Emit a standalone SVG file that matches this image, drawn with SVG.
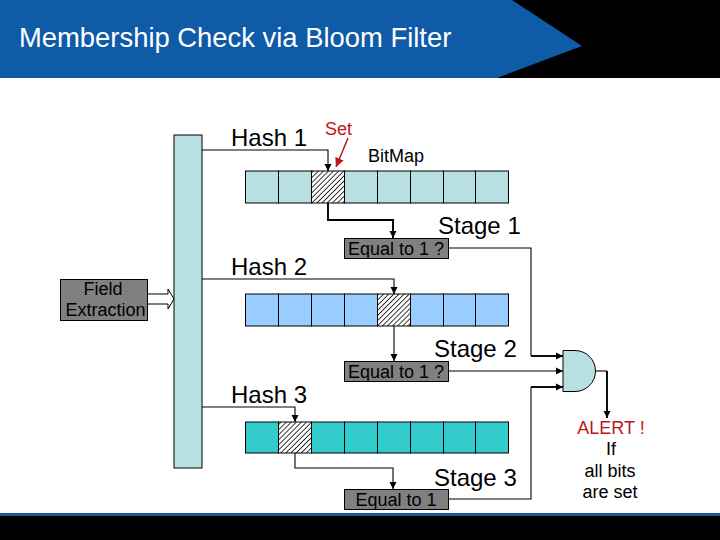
<svg xmlns="http://www.w3.org/2000/svg" width="720" height="540" viewBox="0 0 720 540">
<style>
.s{font-family:"Liberation Sans",Arial,sans-serif;fill:#000}
.h{font-size:24px}
.b{font-size:18px}
.w{stroke:#000;stroke-width:1.1;fill:none}
.t{stroke:#000;stroke-width:1.9;fill:none}
.cell{stroke:#000;stroke-width:1}
.gbox{fill:#808080;stroke:#000;stroke-width:1}
.red{fill:#c0141e}
</style>
<defs>
<pattern id="hatch" width="3.6" height="3.6" patternUnits="userSpaceOnUse" patternTransform="rotate(45)"><rect width="3.6" height="3.6" fill="#fff"/><rect width="0.9" height="3.6" fill="#222"/></pattern>
<marker id="a" markerUnits="userSpaceOnUse" markerWidth="8" markerHeight="8" refX="7" refY="4" orient="auto"><path d="M0 0.5L7 4L0 7.500Z" fill="#000"/></marker>
<marker id="r" markerUnits="userSpaceOnUse" markerWidth="11" markerHeight="10" refX="9" refY="5" orient="auto"><path d="M0 0.5L9 5L0 9.500Z" fill="#c0141e"/></marker>
</defs>
<rect width="720" height="540" fill="#fff"/>
<g id="banner"><rect width="720" height="78" fill="#000"/><path d="M0 0H512L582 46L497 78H0Z" fill="#0f5ba7"/><text x="19" y="47" font-family="Liberation Sans,Arial,sans-serif" font-size="27.400" fill="#fff">Membership Check via Bloom Filter</text></g>
<g id="footer"><rect y="513" width="720" height="27" fill="#000"/><rect y="513" width="720" height="3" fill="#1a5a96"/></g>
<g id="connectors">
<path class="w" d="M202 150H328V171" marker-end="url(#a)"/>
<path class="w" d="M202 279H394V294" marker-end="url(#a)"/>
<path class="w" d="M202 407H295V422" marker-end="url(#a)"/>
<path class="t" d="M328 203V220H393V238" marker-end="url(#a)"/>
<path class="w" d="M394 326V361" marker-end="url(#a)"/>
<path class="w" d="M295 453V468H393V489" marker-end="url(#a)"/>
<path class="w" d="M449 248H531V356"/>
<path class="t" d="M531 356H563" marker-end="url(#a)"/>
<path class="w" d="M449 371H563" marker-end="url(#a)"/>
<path class="w" d="M449 499H531V387"/>
<path class="t" d="M531 387H563" marker-end="url(#a)"/>
<path class="w" d="M595 371H607"/>
<path class="t" d="M607 371V418" marker-end="url(#a)"/>
<path d="M348 138L336 167" stroke="#c0141e" stroke-width="1.5" fill="none" marker-end="url(#r)"/>
<path d="M147 294H168V289L174 299L168 309V304H147" fill="#fff" stroke="#000" stroke-width="1"/>
</g>
<g id="bus"><rect x="174" y="135" width="28" height="333" fill="#b8dfe1" stroke="#000" stroke-width="1"/></g>
<g id="row1" fill="#b8dfe1">
<rect class="cell" x="245.500" y="171" width="33" height="32"/><rect class="cell" x="278.500" y="171" width="33" height="32"/><rect class="cell" x="311.500" y="171" width="33" height="32" fill="url(#hatch)"/><rect class="cell" x="344.500" y="171" width="33" height="32"/><rect class="cell" x="377.500" y="171" width="33" height="32"/><rect class="cell" x="410.500" y="171" width="33" height="32"/><rect class="cell" x="443.500" y="171" width="32" height="32"/><rect class="cell" x="475.500" y="171" width="33" height="32"/>
</g>
<g id="row2" fill="#99ccff">
<rect class="cell" x="245.500" y="294" width="33" height="32"/><rect class="cell" x="278.500" y="294" width="33" height="32"/><rect class="cell" x="311.500" y="294" width="33" height="32"/><rect class="cell" x="344.500" y="294" width="33" height="32"/><rect class="cell" x="377.500" y="294" width="33" height="32" fill="url(#hatch)"/><rect class="cell" x="410.500" y="294" width="33" height="32"/><rect class="cell" x="443.500" y="294" width="32" height="32"/><rect class="cell" x="475.500" y="294" width="33" height="32"/>
</g>
<g id="row3" fill="#33cccc">
<rect class="cell" x="245.500" y="422" width="33" height="31"/><rect class="cell" x="278.500" y="422" width="33" height="31" fill="url(#hatch)"/><rect class="cell" x="311.500" y="422" width="33" height="31"/><rect class="cell" x="344.500" y="422" width="33" height="31"/><rect class="cell" x="377.500" y="422" width="33" height="31"/><rect class="cell" x="410.500" y="422" width="33" height="31"/><rect class="cell" x="443.500" y="422" width="32" height="31"/><rect class="cell" x="475.500" y="422" width="33" height="31"/>
</g>
<g id="field"><rect class="gbox" x="60.500" y="279.500" width="87" height="41"/><text class="s b" x="103" y="295" text-anchor="middle">Field</text><text class="s b" x="105.500" y="316" text-anchor="middle">Extraction</text></g>
<g id="eq1"><rect class="gbox" x="344.500" y="238.500" width="104" height="20"/><text class="s b" x="396" y="255" text-anchor="middle">Equal to 1 ?</text></g>
<g id="eq2"><rect class="gbox" x="344.500" y="361.500" width="104" height="20"/><text class="s b" x="396" y="378" text-anchor="middle">Equal to 1 ?</text></g>
<g id="eq3"><rect class="gbox" x="344.500" y="489.500" width="104" height="20"/><text class="s b" x="396" y="506" text-anchor="middle">Equal to 1</text></g>
<g id="gate"><path d="M563 350.500H575A20.500 20.500 0 0 1 575 391.500H563Z" fill="#b8dfe1" stroke="#000" stroke-width="1"/></g>
<g id="labels">
<text class="s h" x="231" y="146">Hash 1</text>
<text class="s h" x="231" y="275">Hash 2</text>
<text class="s h" x="231" y="403">Hash 3</text>
<text class="s b red" x="325" y="135" style="fill:#c0141e">Set</text>
<text class="s b" x="368" y="162">BitMap</text>
<text class="s h" x="438" y="234">Stage 1</text>
<text class="s h" x="434" y="357">Stage 2</text>
<text class="s h" x="434" y="486">Stage 3</text>
<text class="s b" x="611" y="434" text-anchor="middle" style="fill:#c0141e">ALERT !</text>
<text class="s b" x="611" y="455" text-anchor="middle">If</text>
<text class="s b" x="610" y="477" text-anchor="middle">all bits</text>
<text class="s b" x="610" y="498" text-anchor="middle">are set</text>
</g>
</svg>
